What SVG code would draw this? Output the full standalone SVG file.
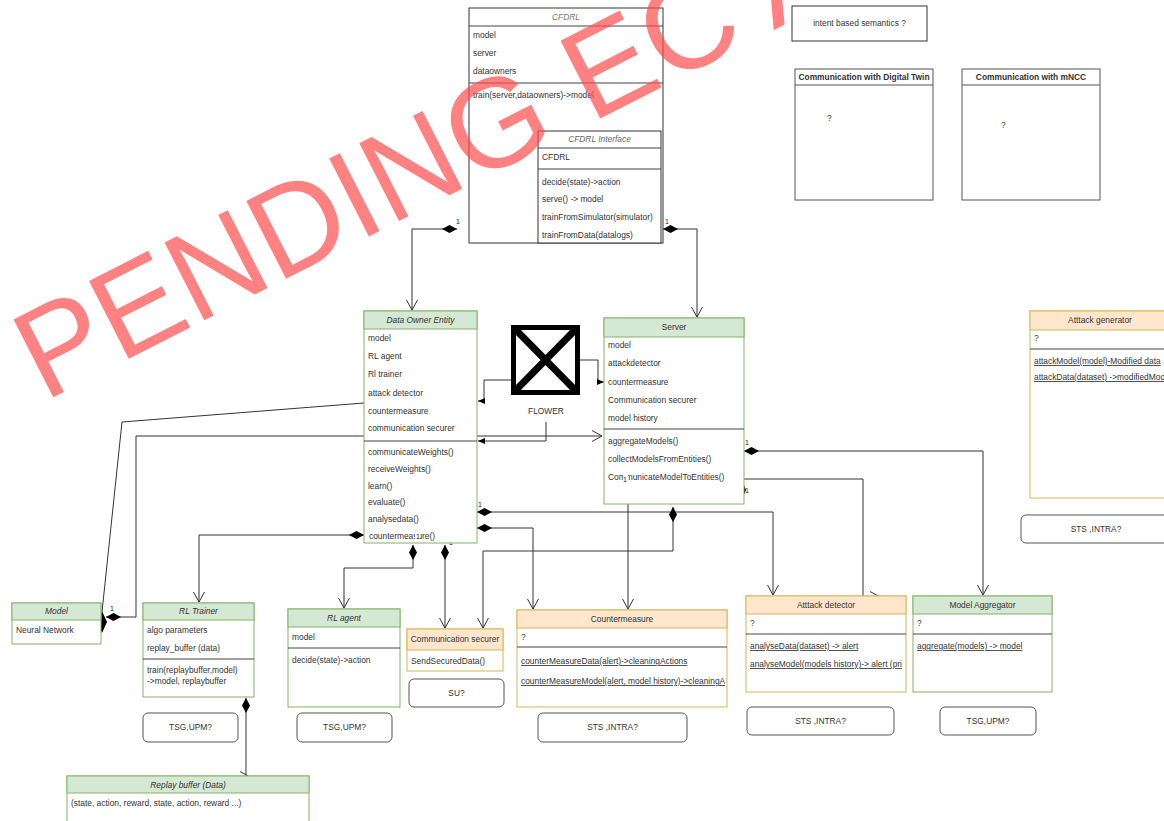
<svg xmlns="http://www.w3.org/2000/svg" width="1164" height="821" viewBox="0 0 1164 821">
<style>
text{font-family:"Liberation Sans",Arial,sans-serif;font-size:8.4px;fill:#333}
.c{text-anchor:middle}
.i{font-style:italic}
.b{font-weight:bold}
.u{text-decoration:underline}
.lb{font-size:7px;fill:#222}
.hdg{fill:#d5e8d4;stroke:#82b366}
.bdg{fill:#fff;stroke:#82b366}
.hdo{fill:#ffe6cc;stroke:#d6b656}
.bdo{fill:#fff;stroke:#d6b656}
.sep{stroke:#444;stroke-width:1}
.plain{fill:#fff;stroke:#333}
.note{fill:#fff;stroke:#555}
.wire{fill:none;stroke:#333;stroke-width:1}
.dia{fill:#000}
</style>
<defs>
<marker id="open" viewBox="0 0 12 12" refX="11" refY="6" markerWidth="12" markerHeight="12" orient="auto" markerUnits="userSpaceOnUse">
<path d="M1,0.5 L11,6 L1,11.5" fill="none" stroke="#333" stroke-width="1"/>
</marker>
<marker id="blk" viewBox="0 0 7 7" refX="7" refY="3.5" markerWidth="7" markerHeight="7" orient="auto" markerUnits="userSpaceOnUse">
<path d="M0,0.5 L7,3.5 L0,6.5 Z" fill="#000"/>
</marker>
<marker id="dm" viewBox="0 0 15 8" refX="0" refY="4" markerWidth="15" markerHeight="8" orient="auto" markerUnits="userSpaceOnUse">
<path d="M0,4 L7.5,0 L15,4 L7.5,8 Z" fill="#000"/>
</marker>
<clipPath id="clipCm"><rect x="517" y="610" width="210" height="97"/></clipPath>
<clipPath id="clipAd"><rect x="746" y="596" width="160" height="96"/></clipPath>
</defs>

<!-- connectors -->
<g id="connectors">
<path class="wire" d="M457,229 H412 V310" marker-start="url(#dm)" marker-end="url(#open)"/>
<text class="lb" x="456" y="224">1</text>
<path class="wire" d="M663,229 H697 V317" marker-start="url(#dm)" marker-end="url(#open)"/>
<text class="lb" x="665" y="224">1</text>

<path class="wire" d="M511,380 H484 V401 H478" marker-end="url(#blk)"/>
<path class="wire" d="M580,360 H598 V382 H604" marker-end="url(#blk)"/>
<path class="wire" d="M546,422 V441 H478" marker-end="url(#blk)"/>

<path class="wire" d="M106,617 H136 V436 H602" marker-start="url(#dm)" marker-end="url(#open)"/>
<text class="lb" x="110" y="611">1</text>
<path class="wire" d="M364,403 L122,422 L102,612"/>
<polygon class="dia" points="102,611 107,622 102,633 97,622"/>

<path class="wire" d="M364,535 H199 V602" marker-start="url(#dm)" marker-end="url(#open)"/>
<text class="lb" x="366" y="530">1</text>
<path class="wire" d="M413,545 V568 H344 V608" marker-start="url(#dm)" marker-end="url(#open)"/>
<path class="wire" d="M445,545 V628" marker-start="url(#dm)" marker-end="url(#open)"/>
<text class="lb" x="449" y="545">1</text>

<path class="wire" d="M477,512 H773 V595" marker-start="url(#dm)" marker-end="url(#open)"/>
<text class="lb" x="478" y="507">1</text>
<path class="wire" d="M673,507 V551 H483 V628" marker-start="url(#dm)" marker-end="url(#open)"/>
<text class="lb" x="677" y="504">1</text>
<path class="wire" d="M477,528 H533 V609" marker-start="url(#dm)" marker-end="url(#open)"/>
<text class="lb" x="470" y="521">1</text>
<path class="wire" d="M628,484 V609" marker-start="url(#dm)" marker-end="url(#open)"/>

<path class="wire" d="M744,451 H983 V595" marker-start="url(#dm)" marker-end="url(#open)"/>
<text class="lb" x="745" y="445">1</text>
<path class="wire" d="M744,479 H863 V597 H880" marker-end="url(#open)"/>
<polygon class="dia" points="743,483 746,490 743,497 740,490"/>
<text class="lb" x="745" y="493">1</text>

<path class="wire" d="M246,698 V777 H250" marker-start="url(#dm)" marker-end="url(#open)"/>
<text class="lb" x="250" y="696">1</text>
</g>

<!-- top-level framework class with nested interface -->
<g id="cfdrl">
<rect class="plain" x="469" y="8" width="194" height="235" stroke="#222"/>
<line class="sep" x1="469" y1="26" x2="663" y2="26"/>
<text class="c i" x="566" y="20" style="fill:#777">CFDRL</text>
<text x="473" y="38">model</text>
<text x="473" y="56">server</text>
<text x="473" y="74">dataowners</text>
<line class="sep" x1="469" y1="83" x2="663" y2="83"/>
<text x="473" y="98">train(server,dataowners)-&gt;model</text>
</g>
<g id="cfdrl-interface">
<rect class="plain" x="538" y="131" width="123" height="112"/>
<line class="sep" x1="538" y1="148" x2="661" y2="148"/>
<text class="c i" x="599.5" y="142" style="fill:#666">CFDRL Interface</text>
<text x="542" y="160">CFDRL</text>
<line class="sep" x1="538" y1="169" x2="661" y2="169"/>
<text x="542" y="185">decide(state)-&gt;action</text>
<text x="542" y="202">serve() -&gt; model</text>
<text x="542" y="220">trainFromSimulator(simulator)</text>
<text x="542" y="238">trainFromData(datalogs)</text>
</g>

<g id="intent">
<rect class="plain" x="792" y="6" width="135" height="35"/>
<text class="c" x="859.5" y="26">intent based semantics ?</text>
</g>
<g id="comm-dt">
<rect class="note" x="795" y="69" width="138" height="131"/>
<line class="note" x1="795" y1="85" x2="933" y2="85"/>
<text class="c b" x="864" y="80">Communication with Digital Twin</text>
<text x="827" y="121">?</text>
</g>
<g id="comm-mncc">
<rect class="note" x="962" y="69" width="138" height="131"/>
<line class="note" x1="962" y1="85" x2="1100" y2="85"/>
<text class="c b" x="1031" y="80">Communication with mNCC</text>
<text x="1001" y="128">?</text>
</g>

<g id="data-owner">
<rect class="bdg" x="364" y="311" width="113" height="232"/>
<rect class="hdg" x="364" y="311" width="113" height="18"/>
<text class="c i" x="420.5" y="323">Data Owner Entity</text>
<text x="368" y="341">model</text>
<text x="368" y="359">RL agent</text>
<text x="368" y="377">Rl trainer</text>
<text x="368" y="396">attack detector</text>
<text x="368" y="414">countermeasure</text>
<text x="368" y="431">communication securer</text>
<line class="sep" x1="364" y1="441" x2="477" y2="441"/>
<text x="368" y="455">communicateWeights()</text>
<text x="368" y="472">receiveWeights()</text>
<text x="368" y="489">learn()</text>
<text x="368" y="505">evaluate()</text>
<text x="368" y="522">analysedata()</text>
<text x="369" y="539">countermeasure()</text>
<rect x="415" y="532" width="5" height="9" fill="#fff"/>
<text class="lb" x="416" y="539">1</text>
</g>

<g id="flower">
<rect x="513.5" y="327.5" width="64" height="65" fill="#fff" stroke="#000" stroke-width="5"/>
<path d="M515,329 L576,391 M576,329 L515,391" stroke="#000" stroke-width="7"/>
<text class="c" x="546" y="414">FLOWER</text>
</g>

<g id="server">
<rect class="bdg" x="604" y="318" width="140" height="186"/>
<rect class="hdg" x="604" y="318" width="140" height="19"/>
<text class="c" x="674" y="330">Server</text>
<text x="608" y="348">model</text>
<text x="608" y="366">attackdetector</text>
<text x="608" y="385">countermeasure</text>
<text x="608" y="403">Communication securer</text>
<text x="608" y="421">model history</text>
<line class="sep" x1="604" y1="429" x2="744" y2="429"/>
<text x="608" y="444">aggregateModels()</text>
<text x="608" y="462">collectModelsFromEntities()</text>
<text x="608" y="480">CommunicateModelToEntities()</text>
<rect x="623" y="475" width="5" height="8" fill="#fff"/>
<text class="lb" x="623" y="482">1</text>
</g>

<g id="model">
<rect class="bdg" x="12" y="603" width="89" height="41"/>
<rect class="hdg" x="12" y="603" width="89" height="17"/>
<text class="c i" x="56.5" y="614">Model</text>
<text x="16" y="633">Neural Network</text>
</g>

<g id="rl-trainer">
<rect class="bdg" x="143" y="603" width="111" height="94"/>
<rect class="hdg" x="143" y="603" width="111" height="17"/>
<text class="c i" x="198.5" y="614">RL Trainer</text>
<text x="147" y="633">algo parameters</text>
<text x="147" y="651">replay_buffer (data)</text>
<line class="sep" x1="143" y1="659" x2="254" y2="659"/>
<text x="147" y="673">train(replaybuffer,model)</text>
<text x="147" y="684"> -&gt;model, replaybuffer</text>
</g>
<g id="note-trainer">
<rect class="note" x="143" y="713" width="95" height="29" rx="5"/>
<text class="c" x="190.5" y="730">TSG,UPM?</text>
</g>

<g id="replay-buffer">
<rect class="bdg" x="67" y="776" width="242" height="60"/>
<rect class="hdg" x="67" y="776" width="242" height="17"/>
<text class="c i" x="188" y="788">Replay buffer  (Data)</text>
<text x="71" y="806">(state, action, reward, state, action, reward ...)</text>
</g>

<g id="rl-agent">
<rect class="bdg" x="288" y="609" width="112" height="98"/>
<rect class="hdg" x="288" y="609" width="112" height="18"/>
<text class="c i" x="344" y="621">RL agent</text>
<text x="292" y="640">model</text>
<line class="sep" x1="288" y1="648" x2="400" y2="648"/>
<text x="292" y="663">decide(state)-&gt;action</text>
</g>
<g id="note-agent">
<rect class="note" x="297" y="713" width="95" height="29" rx="5"/>
<text class="c" x="344.5" y="730">TSG,UPM?</text>
</g>

<g id="comm-securer">
<rect class="bdo" x="407" y="629" width="96" height="42"/>
<rect class="hdo" x="407" y="629" width="96" height="21"/>
<text class="c" x="455" y="642">Communication securer</text>
<text x="411" y="664">SendSecuredData()</text>
</g>
<g id="note-securer">
<rect class="note" x="409" y="679" width="95" height="28" rx="5"/>
<text class="c" x="456.5" y="696">SU?</text>
</g>

<g id="countermeasure">
<rect class="bdo" x="517" y="610" width="210" height="97"/>
<rect class="hdo" x="517" y="610" width="210" height="18"/>
<text class="c" x="622" y="622">Countermeasure</text>
<text x="521" y="640">?</text>
<line class="sep" x1="517" y1="647" x2="727" y2="647"/>
<g clip-path="url(#clipCm)">
<text class="u" x="521" y="664">counterMeasureData(alert)-&gt;cleaningActions</text>
<text class="u" x="521" y="684">counterMeasureModel(alert, model history)-&gt;cleaningA</text>
</g>
</g>
<g id="note-countermeasure">
<rect class="note" x="538" y="713" width="149" height="29" rx="5"/>
<text class="c" x="612.5" y="730">STS ,INTRA?</text>
</g>

<g id="attack-detector">
<rect class="bdo" x="746" y="596" width="160" height="96"/>
<rect class="hdo" x="746" y="596" width="160" height="18"/>
<text class="c" x="826" y="608">Atttack detector</text>
<text x="750" y="626">?</text>
<line class="sep" x1="746" y1="634" x2="906" y2="634"/>
<g clip-path="url(#clipAd)">
<text class="u" x="750" y="649">analyseData(dataset) -&gt; alert</text>
<text class="u" x="750" y="667">analyseModel(models history)-&gt; alert (pri</text>
</g>
</g>
<g id="note-detector">
<rect class="note" x="747" y="707" width="147" height="28" rx="5"/>
<text class="c" x="820.5" y="724">STS ,INTRA?</text>
</g>

<g id="model-aggregator">
<rect class="bdg" x="913" y="596" width="139" height="96"/>
<rect class="hdg" x="913" y="596" width="139" height="18"/>
<text class="c" x="982.5" y="608">Model Aggregator</text>
<text x="917" y="626">?</text>
<line class="sep" x1="913" y1="634" x2="1052" y2="634"/>
<text class="u" x="917" y="649">aggregate(models) -&gt; model</text>
</g>
<g id="note-aggregator">
<rect class="note" x="940" y="707" width="96" height="28" rx="5"/>
<text class="c" x="988" y="724">TSG,UPM?</text>
</g>

<g id="attack-generator">
<rect class="bdo" x="1030" y="311" width="140" height="187"/>
<rect class="hdo" x="1030" y="311" width="140" height="19"/>
<text class="c" x="1100" y="323">Atttack generator</text>
<text x="1034" y="341">?</text>
<line class="sep" x1="1030" y1="349" x2="1170" y2="349"/>
<text class="u" x="1034" y="364">attackModel(model)-Modified data</text>
<text class="u" x="1034" y="380">attackData(dataset) -&gt;modifiedMod</text>
</g>
<g id="note-generator">
<rect class="note" x="1021" y="515" width="150" height="28" rx="5"/>
<text class="c" x="1096" y="532">STS ,INTRA?</text>
</g>

<!-- review stamp across the upper left -->
<g id="stamp">
<text x="0" y="0" transform="translate(44,402) rotate(-27)" style="font-size:127px;fill:#ff4d4d;opacity:0.7">PENDING EC APPROVAL</text>
</g>
</svg>
